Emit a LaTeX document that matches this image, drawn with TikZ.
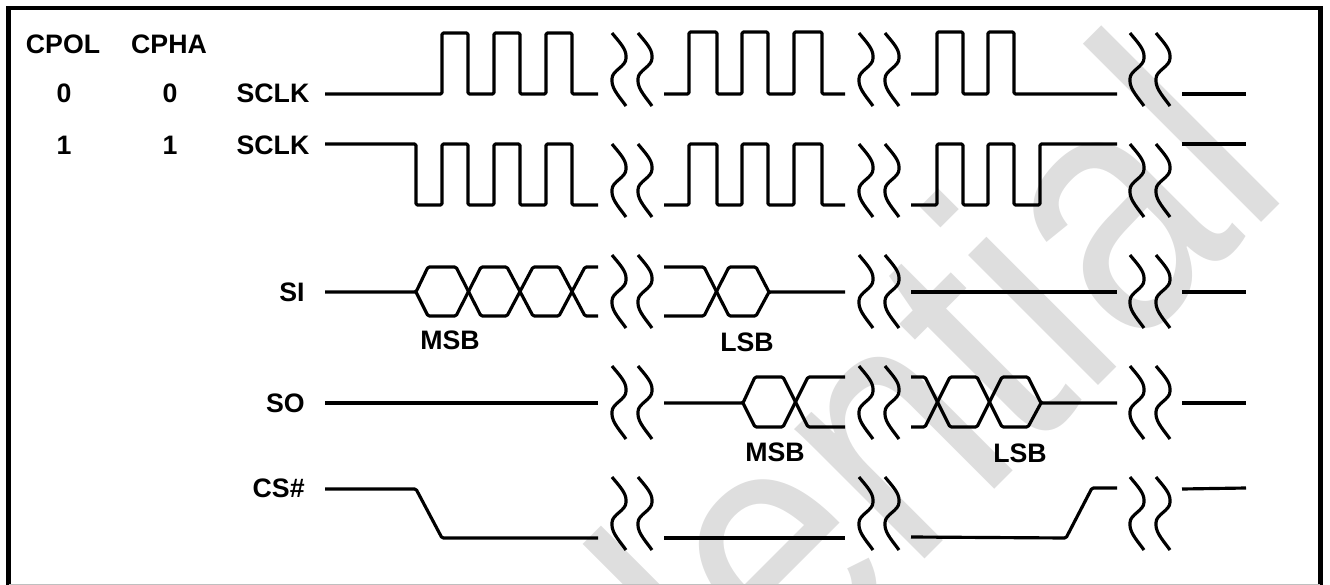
\documentclass[tikz,border=0pt]{standalone}
\usepackage{fontspec}
\setmainfont{Liberation Sans}
\usetikzlibrary{calc}
\newcommand{\gapmark}[2]{%
    \draw[sig] (#1,#2) to [out=-52,in=90,looseness=0.8] ++ (14,24) to [out=-90,in=90,looseness=0.9] ++ (-14,23) to [out=-90,in=125,looseness=0.8] ++ (14,26);
    \draw[sig] (#1+26,#2) to [out=-52,in=90,looseness=0.8] ++ (14,24) to [out=-90,in=90,looseness=0.9] ++ (-14,23) to [out=-90,in=125,looseness=0.8] ++ (14,26);}
\newcommand{\gaprow}[1]{\gapmark{612}{#1}\gapmark{859}{#1}\gapmark{1130}{#1}}
\definecolor{mark}{HTML}{DEDEDE}
\tikzset{
    sig/.style = {line width=1.8pt,line join=round,rounded corners=0.8pt},
    frameline/.style = {line width=2.3pt,line join=miter},
    lab/.style = {font=\fontsize{15.2}{17}\selectfont\bfseries,inner sep=0pt},
    watermark/.style = {font=\fontsize{198}{198}\selectfont,text=mark,inner sep=0pt,rotate=45,xscale=0.85,anchor=base east}}
\begin{document}
\begin{tikzpicture}[x=0.02cm,y=-0.02cm]
        \useasboundingbox (0,0) rectangle (1330,585);
        \begin{scope}
        \clip (9,9) rectangle (1320,584);
        \node[watermark] (conf) at (1294,190) {Confidential};
        \end{scope}
        \draw[frameline] (8.5,585) -- (8.5,8) -- (1320.5,8) -- (1320.5,585);
        \draw[line width=0.4pt,black!25] (9,584.4) -- (1320,584.4);
        % headings and rows
        \path (63,44) node[lab] (CPOL) {CPOL}
        ++ (106,0) node[lab] (CPHA) {CPHA}
        (64,93) node[lab] (P0) {0}
        ++ (106,0) node[lab] (H0) {0}
        ++ (103,0) node[lab] (SCLKa) {SCLK}
        (64,145) node[lab] (P1) {1}
        ++ (106,0) node[lab] (H1) {1}
        ++ (103,0) node[lab] (SCLKb) {SCLK};
        \node[lab,anchor=east] (SI) at (305,292) {SI};
        \node[lab,anchor=east] (SO) at (305,403) {SO};
        \node[lab,anchor=east] (CS) at (305,488) {CS\#};
        \node[lab] (MSBa) at (450,340) {MSB};
        \node[lab] (LSBa) at (747,342) {LSB};
        \node[lab] (MSBb) at (775,452) {MSB};
        \node[lab] (LSBb) at (1020,453) {LSB};
        % SCLK, CPOL 0
        \draw[sig] (325,94) -- (442,94) |- (468,33) |- (494,94) |- (520,33) |- (546,94) |- (572,33) |- (598,94);
        \draw[sig] (664,94) -- (689,94) |- (717,32) |- (742,94) |- (768,32) |- (794,94) |- (822,32) |- (845,94);
        \draw[sig] (911,94) -- (937,94) |- (963,32) |- (988,94) |- (1014,32) |- (1117,94);
        \draw[sig] (1182,94) -- (1246,94);
        % SCLK, CPOL 1
        \draw[sig] (325,144) -- (416,144) |- (442,205) |- (468,144) |- (494,205) |- (520,144) |- (546,205) |- (572,144) |- (598,205);
        \draw[sig] (664,205) -- (689,205) |- (717,144) |- (742,205) |- (768,144) |- (794,205) |- (822,144) |- (845,205);
        \draw[sig] (911,205) -- (937,205) |- (963,144) |- (988,205) |- (1014,144) |- (1040,205) |- (1117,144);
        \draw[sig] (1182,144) -- (1246,144);
        % SI
        \draw[sig] (325,292) -- (416,292) -- (428,267) -- (456,267) -- (481,316) -- (507,316) -- (533,267) -- (559,267) -- (585,316) -- (598,316);
        \draw[sig] (416,292) -- (428,316) -- (456,316) -- (481,267) -- (507,267) -- (533,316) -- (559,316) -- (585,267) -- (598,267);
        \draw[sig] (664,267) -- (704,267) -- (729,316) -- (756,316) -- (769,292) -- (845,292);
        \draw[sig] (664,316) -- (704,316) -- (729,267) -- (756,267) -- (769,292);
        \draw[sig] (911,292) -- (1117,292);
        \draw[sig] (1182,292) -- (1246,292);
        % SO
        \draw[sig] (325,403) -- (598,403);
        \draw[sig] (664,403) -- (743,403) -- (755,377) -- (783,377) -- (808,427) -- (845,427);
        \draw[sig] (743,403) -- (755,427) -- (783,427) -- (808,377) -- (845,377);
        \draw[sig] (911,377) -- (925,377) -- (950,427) -- (977,427) -- (1002,377) -- (1028,377) -- (1041,403) -- (1117,403);
        \draw[sig] (911,427) -- (925,427) -- (950,377) -- (977,377) -- (1002,427) -- (1028,427) -- (1041,403);
        \draw[sig] (1182,403) -- (1246,403);
        % CS#
        \draw[sig] (325,489) -- (416,489) -- (442,538) -- (598,538);
        \draw[sig] (664,538) -- (845,538);
        \draw[sig] (911,537) -- (1066,538) -- (1092,488) -- (1117,488);
        \draw[sig] (1182,489) -- (1246,488);
        % breaks
        \gaprow{33}
        \gaprow{144}
        \gaprow{255}
        \gaprow{366}
        \gaprow{477}
\end{tikzpicture}
\end{document}
